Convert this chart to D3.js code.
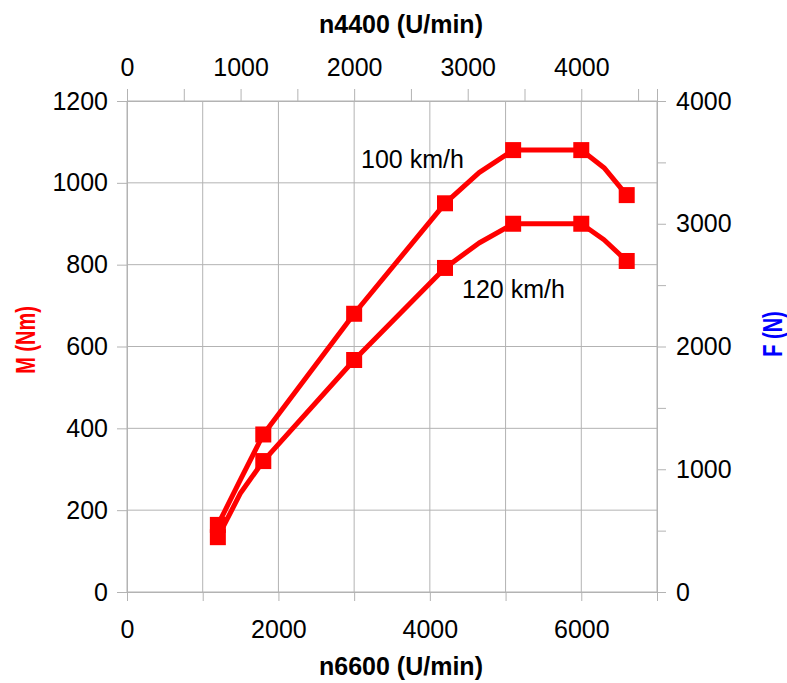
<!DOCTYPE html>
<html>
<head>
<meta charset="utf-8">
<script src="https://cdn.jsdelivr.net/npm/d3@7"></script>
<style>
  body { margin: 0; background: #fff; }
  svg text { font-family: "Liberation Sans", Arial, sans-serif; }
</style>
</head>
<body>
<svg id="chart" width="787" height="683"></svg>
<script>
// speed n6600 (U/min) of the marked points
const speeds = [1200, 1800, 3000, 4200, 5100, 6000, 6600];
// torque M (Nm) at the marked points
const torque100 = [164, 385, 680, 950, 1080, 1080, 970];
const torque120 = [134, 320, 567, 792, 900, 900, 809];
// extra bends of the curves without a marker
const bends = [1500, 4650, 6300];
const bend100 = [275, 1025, 1037];
const bend120 = [242, 853, 861];

const seriesLabels = ['100 km/h', '120 km/h'];
const bottomTicks = [0, 1000, 2000, 3000, 4000, 5000, 6000, 7000];
const bottomLabels = [0, 2000, 4000, 6000];
const topTicks = [0, 500, 1000, 1500, 2000, 2500, 3000, 3500, 4000, 4500];
const topLabels = [0, 1000, 2000, 3000, 4000];
const leftTicks = [0, 200, 400, 600, 800, 1000, 1200];
const rightTicks = [0, 500, 1000, 1500, 2000, 2500, 3000, 3500, 4000];
const rightLabels = [0, 1000, 2000, 3000, 4000];

const svg = d3.select('#chart');
const plotLeft = 127, plotRight = 657, plotTop = 101, plotBottom = 592;
const gridColor = '#b3b3b3';
const red = '#ff0000';
const fontSize = '25px';

const x = d3.scaleLinear().domain([0, 7000]).range([plotLeft, plotRight]);
const xTop = d3.scaleLinear().domain([0, 7000 * 4400 / 6600]).range([plotLeft, plotRight]);
const y = d3.scaleLinear().domain([0, 1200]).range([plotBottom, plotTop]);
const yRight = d3.scaleLinear().domain([0, 4000]).range([plotBottom, plotTop]);

// gridlines
svg.append('g').selectAll('line').data(bottomTicks).join('line')
  .attr('x1', d => x(d)).attr('x2', d => x(d))
  .attr('y1', plotTop).attr('y2', plotBottom)
  .attr('stroke', gridColor).attr('stroke-width', 1);
svg.append('g').selectAll('line').data(leftTicks).join('line')
  .attr('x1', plotLeft).attr('x2', plotRight)
  .attr('y1', d => y(d)).attr('y2', d => y(d))
  .attr('stroke', gridColor).attr('stroke-width', 1);

function styleAxis(g) {
  g.select('.domain').attr('stroke', gridColor);
  g.selectAll('.tick line').attr('stroke', gridColor);
  g.selectAll('.tick text').attr('fill', '#000').style('font-size', fontSize);
}

const fmt = d3.format('d');

// bottom axis
svg.append('g').attr('transform', `translate(0,${plotBottom})`)
  .call(d3.axisBottom(x).tickValues(bottomTicks).tickSize(9).tickPadding(19)
    .tickFormat(d => bottomLabels.includes(d) ? fmt(d) : ''))
  .call(styleAxis);

// top axis
svg.append('g').attr('transform', `translate(0,${plotTop})`)
  .call(d3.axisTop(xTop).tickValues(topTicks).tickSize(12).tickPadding(13)
    .tickFormat(d => topLabels.includes(d) ? fmt(d) : ''))
  .call(styleAxis);

// left axis
svg.append('g').attr('transform', `translate(${plotLeft},0)`)
  .call(d3.axisLeft(y).tickValues(leftTicks).tickSize(10).tickPadding(9).tickFormat(fmt))
  .call(styleAxis);

// right axis
svg.append('g').attr('transform', `translate(${plotRight},0)`)
  .call(d3.axisRight(yRight).tickValues(rightTicks).tickSize(9).tickPadding(10)
    .tickFormat(d => rightLabels.includes(d) ? fmt(d) : ''))
  .call(styleAxis);

// series
const series = [
  { label: seriesLabels[0], marks: speeds.map((s, i) => [s, torque100[i]]), bends: bends.map((s, i) => [s, bend100[i]]) },
  { label: seriesLabels[1], marks: speeds.map((s, i) => [s, torque120[i]]), bends: bends.map((s, i) => [s, bend120[i]]) }
];

const line = d3.line().x(d => x(d[0])).y(d => y(d[1]));

series.forEach(s => {
  const pts = s.marks.concat(s.bends).sort((a, b) => a[0] - b[0]);
  svg.append('path').datum(pts)
    .attr('d', line)
    .attr('fill', 'none')
    .attr('stroke', red)
    .attr('stroke-width', 5)
    .attr('stroke-linejoin', 'round');
  svg.append('g').selectAll('rect').data(s.marks).join('rect')
    .attr('x', d => x(d[0]) - 8).attr('y', d => y(d[1]) - 8)
    .attr('width', 16).attr('height', 16)
    .attr('fill', red);
});

// curve labels
svg.append('text').attr('x', 361).attr('y', 168).text(seriesLabels[0])
  .style('font-size', fontSize);
svg.append('text').attr('x', 462).attr('y', 298).text(seriesLabels[1])
  .style('font-size', fontSize);

// axis titles
svg.append('text').attr('x', 401).attr('y', 33).attr('text-anchor', 'middle')
  .style('font-size', fontSize).style('font-weight', 'bold').text('n4400 (U/min)');
svg.append('text').attr('x', 401).attr('y', 675).attr('text-anchor', 'middle')
  .style('font-size', fontSize).style('font-weight', 'bold').text('n6600 (U/min)');
svg.append('text').attr('transform', 'translate(35,340) rotate(-90) scale(1,1.35)').attr('text-anchor', 'middle')
  .style('font-size', '20px').style('font-weight', 'bold').attr('fill', red).text('M (Nm)');
svg.append('text').attr('transform', 'translate(782,334) rotate(-90) scale(1,1.35)').attr('text-anchor', 'middle')
  .style('font-size', '20px').style('font-weight', 'bold').attr('fill', '#0000ff').text('F (N)');
</script>
</body>
</html>
